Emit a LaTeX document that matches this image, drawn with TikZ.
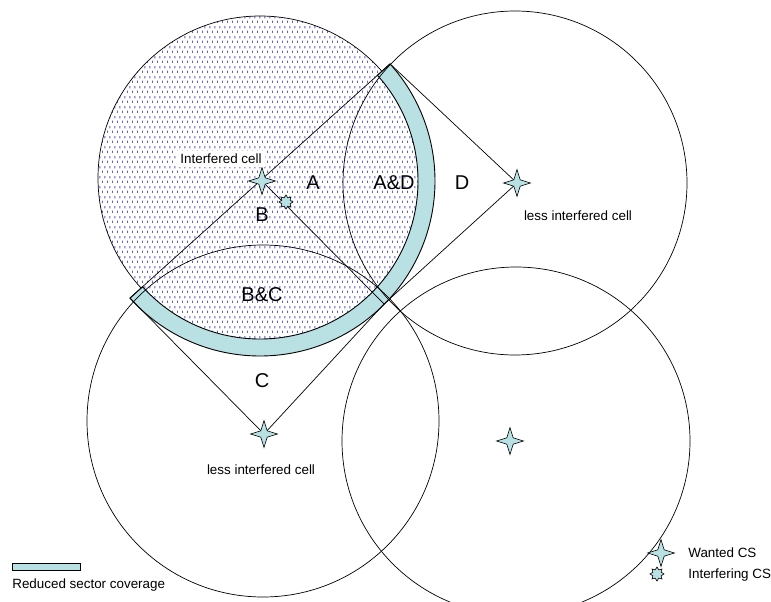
\documentclass[tikz,border=0pt]{standalone}
\usepackage{fontspec}
\setmainfont{Liberation Sans}
\usetikzlibrary{
  shapes.geometric,
  patterns.meta
}

\definecolor{bandteal}{RGB}{185,224,226}
\definecolor{dotblue}{RGB}{95,95,205}

\tikzdeclarepattern{
  name=celldots,
  type=uncolored,
  bounding box={(0,0) and (5.4pt,9.6pt)},
  tile size={(5.4pt,9.6pt)},
  code={
    \pgfpathrectangle{\pgfpoint{0pt}{0pt}}{\pgfpoint{1pt}{2.4pt}}
    \pgfpathrectangle{\pgfpoint{2.7pt}{4.8pt}}{\pgfpoint{1pt}{2.4pt}}
    \pgfusepath{fill}
  }
}

\begin{document}
\begin{tikzpicture}[
  x=1pt, y=-1pt,
  line width=0.7pt,
  wanted/.style={star, star points=4, star point ratio=3,
    minimum size=27pt, inner sep=0pt, draw, fill=bandteal, line width=0.6pt},
  interf/.style={star, star points=8, star point ratio=1.55,
    minimum size=14pt, inner sep=0pt, draw, fill=bandteal, line width=0.6pt},
  big/.style={font=\fontsize{20}{24}\selectfont, inner sep=1pt},
  small/.style={font=\fontsize{13.4}{16}\selectfont, inner sep=1pt},
]
\useasboundingbox (0,0) rectangle (771,602);
\coordinate (cI) at (260,178);
\coordinate (cB) at (260,181);
\coordinate (sI) at (262,181);
\coordinate (sD) at (517,183);
\coordinate (sC) at (264,434);
\coordinate (sE) at (510,441);
\coordinate (sX) at (286,202);
% interfered cell
\fill[white] (cI) circle[radius=162];
\path[pattern=celldots, pattern color=dotblue] (cI) circle[radius=162];
\draw (cI) circle[radius=162];
% reduced sector
\draw[fill=bandteal, line width=0.9pt]
  ([shift={(-42:158)}]cB) arc[start angle=-42, end angle=138, radius=158]
  -- ([shift={(138:175)}]cB) arc[start angle=138, end angle=-42, radius=175]
  -- cycle;
\coordinate (p1) at ([shift={(-42:175)}]cB);
\coordinate (p2) at ([shift={(138:175)}]cB);
\coordinate (p3) at (384,304);
% neighbour cells
\draw (515,183) circle[radius=172];
\draw (263,421) circle[radius=176];
\draw (516,441) circle[radius=174];
\draw (p2) -- (p1) -- (sD) -- (p3) -- (sC) -- (p2);
\draw (sI) -- (p3);
\node[wanted] (wI) at (sI) {};
\node[wanted] (wD) at (sD) {};
\node[wanted] (wC) at (sC) {};
\node[wanted] (wE) at (sE) {};
\node[interf] (xI) at (sX) {};
\node[small, fill=white, inner sep=3pt] (lI) at (221,159) {Interfered cell};
\node[big] (lA) at (313,183) {A};
\node[big] (lB) at (262,215) {B};
\node[big] (lAD) at (394,183) {A\&D};
\node[big] (lD) at (462,183) {D};
\node[big] (lBC) at (262,295) {B\&C};
\node[big] (lC) at (262,381) {C};
\node[small] (lD2) at (578,216) {less interfered cell};
\node[small] (lC2) at (261,470) {less interfered cell};
% legend
\node[draw, fill=bandteal, line width=0.5pt, minimum width=68pt,
  minimum height=7pt, inner sep=0pt, anchor=north west] (key) at (12,563) {};
\node[small, anchor=west] (keyt) at (11,585) {Reduced sector coverage};
\node[wanted] (kw) at (661,553) {};
\node[small, anchor=west] (kwt) at (687,553) {Wanted CS};
\node[interf] (kx) at (657,574) {};
\node[small, anchor=west] (kxt) at (687,575) {Interfering CS};
\end{tikzpicture}
\end{document}
